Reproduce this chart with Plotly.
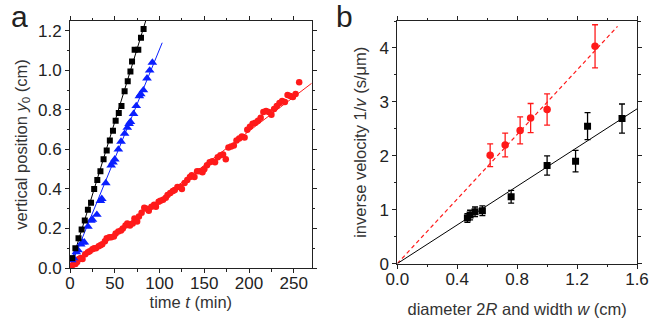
import plotly.graph_objects as go

# ---------------- Panel a data ----------------
black_t = [2.5, 6, 9.5, 13, 16.5, 20, 23.5, 27, 30.5, 34, 37.5, 41, 44.5, 48, 51, 54.5,
           57.5, 61, 64.5, 67.5, 69.3, 72.2, 76.3, 79.3, 82.2]
black_y = [0.05, 0.10, 0.15, 0.195, 0.24, 0.295, 0.33, 0.40, 0.445, 0.49, 0.55, 0.595,
           0.645, 0.695, 0.745, 0.785, 0.82, 0.895, 0.945, 0.995, 1.045, 1.105, 1.105,
           1.165, 1.21]

blue_t = [2, 4, 7, 9, 12, 14, 16, 20, 23.3, 25, 30, 34, 35.5, 40, 46, 48, 50, 54, 57,
          61, 64, 66, 67.5, 71, 74, 77.5, 79, 82, 86, 89, 92]
blue_y = [0.04, 0.05, 0.08, 0.09, 0.12, 0.13, 0.13, 0.21, 0.24, 0.245, 0.27, 0.34, 0.35,
          0.43, 0.52, 0.535, 0.55, 0.60, 0.64, 0.68, 0.71, 0.73, 0.74, 0.78, 0.82, 0.87,
          0.88, 0.90, 0.96, 1.00, 1.04]

red_t = [2, 4, 6, 8, 10, 12, 14, 17, 20, 22, 25, 27, 29, 32, 34, 36, 39, 41, 44, 46, 49,
         51, 54, 57, 59, 62, 64, 67, 70, 72, 75, 77, 80, 83, 86, 88, 91, 94, 96, 99, 101,
         104, 107, 109, 112, 115, 117, 120, 123, 125, 128, 131, 134, 136, 139, 142, 145,
         148, 150, 153, 156, 159, 162, 165, 168, 171, 174, 177, 180, 183, 186, 189, 192,
         195, 198, 201, 204, 207, 210, 213, 216, 219, 222, 225, 228, 231, 234, 237, 240,
         243, 246, 249, 252, 256]
red_y = [0.01, 0.02, 0.02, 0.03, 0.045, 0.05, 0.045, 0.07, 0.08, 0.085, 0.095, 0.10, 0.10,
         0.11, 0.115, 0.12, 0.135, 0.15, 0.155, 0.155, 0.16, 0.175, 0.185, 0.19, 0.20,
         0.215, 0.225, 0.215, 0.225, 0.25, 0.235, 0.26, 0.28, 0.305, 0.30, 0.29, 0.31,
         0.32, 0.31, 0.335, 0.34, 0.345, 0.355, 0.37, 0.38, 0.39, 0.395, 0.41, 0.41, 0.40,
         0.43, 0.445, 0.46, 0.47, 0.46, 0.49, 0.49, 0.485, 0.50, 0.52, 0.535, 0.54, 0.535,
         0.56, 0.57, 0.575, 0.55, 0.61, 0.615, 0.62, 0.645, 0.655, 0.665, 0.66, 0.70,
         0.715, 0.73, 0.735, 0.745, 0.76, 0.79, 0.795, 0.79, 0.775, 0.805, 0.82, 0.835,
         0.845, 0.84, 0.875, 0.87, 0.865, 0.88, 0.94]

# fitted lines (start/end points)
fit_a_black_t = [0, 84.5]
fit_a_black_y = [0, 1.25]
fit_a_blue_t = [0, 103]
fit_a_blue_y = [0, 1.14]
fit_a_red_t = [0, 270]
fit_a_red_y = [0, 0.935]

# ---------------- Panel b data ----------------
sq_x = [0.468, 0.486, 0.519, 0.568, 0.76, 1.00, 1.19, 1.27, 1.50]
sq_y = [0.845, 0.90, 0.96, 0.98, 1.24, 1.82, 1.90, 2.55, 2.69]
sq_err = [0.08, 0.09, 0.09, 0.09, 0.12, 0.18, 0.20, 0.25, 0.27]

ci_x = [0.62, 0.72, 0.82, 0.89, 1.00, 1.32]
ci_y = [2.01, 2.20, 2.47, 2.70, 2.86, 4.03]
ci_err = [0.21, 0.22, 0.25, 0.27, 0.29, 0.40]

fit_b_black_x = [0, 1.6]
fit_b_black_y = [0, 2.87]
fit_b_red_x = [0, 1.47]
fit_b_red_y = [0, 4.40]

BLACK = "#000000"
BLUE = "#0a1fff"
RED = "#ff1a1a"
FONT = "Liberation Sans"

fig = go.Figure()

# Panel a
fig.add_trace(go.Scatter(x=fit_a_red_t, y=fit_a_red_y, mode="lines",
                         line=dict(color=RED, width=1), xaxis="x", yaxis="y"))
fig.add_trace(go.Scatter(x=fit_a_blue_t, y=fit_a_blue_y, mode="lines",
                         line=dict(color=BLUE, width=1), xaxis="x", yaxis="y"))
fig.add_trace(go.Scatter(x=fit_a_black_t, y=fit_a_black_y, mode="lines",
                         line=dict(color=BLACK, width=1), xaxis="x", yaxis="y"))
fig.add_trace(go.Scatter(x=red_t, y=red_y, mode="markers",
                         marker=dict(symbol="circle", size=6.5, color=RED),
                         xaxis="x", yaxis="y"))
fig.add_trace(go.Scatter(x=blue_t, y=blue_y, mode="markers",
                         marker=dict(symbol="triangle-up", size=8.5, color=BLUE),
                         xaxis="x", yaxis="y"))
fig.add_trace(go.Scatter(x=black_t, y=black_y, mode="markers",
                         marker=dict(symbol="square", size=6, color=BLACK),
                         xaxis="x", yaxis="y"))

# Panel b
fig.add_trace(go.Scatter(x=fit_b_red_x, y=fit_b_red_y, mode="lines",
                         line=dict(color=RED, width=1.2, dash="4px,3px"),
                         xaxis="x2", yaxis="y2"))
fig.add_trace(go.Scatter(x=fit_b_black_x, y=fit_b_black_y, mode="lines",
                         line=dict(color=BLACK, width=1), xaxis="x2", yaxis="y2"))
fig.add_trace(go.Scatter(x=ci_x, y=ci_y, mode="markers",
                         marker=dict(symbol="circle", size=7.5, color=RED),
                         error_y=dict(type="data", array=ci_err, color=RED,
                                      thickness=1.3, width=3),
                         xaxis="x2", yaxis="y2"))
fig.add_trace(go.Scatter(x=sq_x, y=sq_y, mode="markers",
                         marker=dict(symbol="square", size=7, color=BLACK),
                         error_y=dict(type="data", array=sq_err, color=BLACK,
                                      thickness=1.3, width=3),
                         xaxis="x2", yaxis="y2"))

axis_common = dict(showline=True, linecolor="#222", linewidth=1, mirror="ticks",
                   ticks="outside", ticklen=4, tickwidth=1, tickcolor="#222",
                   showgrid=False, zeroline=False, automargin=False,
                   tickfont=dict(family=FONT, size=17, color="#222"),
                   title_font=dict(family=FONT, size=16.5, color="#333"))

minor_common = dict(ticks="outside", ticklen=2.5, tickcolor="#222")

fig.update_layout(
    width=650, height=321,
    margin=dict(l=70, r=13, t=21, b=53),
    paper_bgcolor="white", plot_bgcolor="white",
    showlegend=False,
    font=dict(family=FONT, color="#222"),
    xaxis=dict(domain=[0, 0.4263], range=[0, 270], tickvals=[0, 50, 100, 150, 200, 250],
               minor=dict(dtick=25, tick0=0, **minor_common),
               ticklabelstandoff=-4,
               title=dict(text="time <i>t</i> (min)", standoff=4), anchor="y",
               **axis_common),
    yaxis=dict(domain=[0, 1], range=[0, 1.25],
               tickvals=[0, 0.2, 0.4, 0.6, 0.8, 1.0, 1.2],
               ticktext=["0.0", "0.2", "0.4", "0.6", "0.8", "1.0", "1.2"],
               minor=dict(dtick=0.1, tick0=0, **minor_common),
               title=dict(text="vertical position <i>y</i><sub>0</sub> (cm)", standoff=6),
               anchor="x", **axis_common),
    xaxis2=dict(domain=[0.5772, 1], range=[0, 1.6], tickvals=[0, 0.4, 0.8, 1.2, 1.6],
                ticktext=["0.0", "0.4", "0.8", "1.2", "1.6"],
                minor=dict(dtick=0.2, tick0=0, **minor_common),
                ticklabelstandoff=-4,
                title=dict(text="diameter 2<i>R</i> and width <i>w</i> (cm)", standoff=15),
                anchor="y2", **axis_common),
    yaxis2=dict(domain=[0.0178, 1], range=[0, 4.5], tickvals=[0, 1, 2, 3, 4],
                minor=dict(dtick=0.5, tick0=0, **minor_common),
                title=dict(text="inverse velocity 1/<i>v</i> (s/μm)", standoff=8),
                anchor="x2", **axis_common),
    annotations=[
        dict(text="a", xref="paper", yref="paper", x=-0.108, y=1.02, xanchor="left",
             yanchor="middle", showarrow=False,
             font=dict(family=FONT, size=30, color="#222")),
        dict(text="b", xref="paper", yref="paper", x=0.466, y=1.02, xanchor="left",
             yanchor="middle", showarrow=False,
             font=dict(family=FONT, size=30, color="#222")),
    ],
)

fig.write_html("out.html", config={"displayModeBar": False},
               post_script="document.body.style.margin='0';")
